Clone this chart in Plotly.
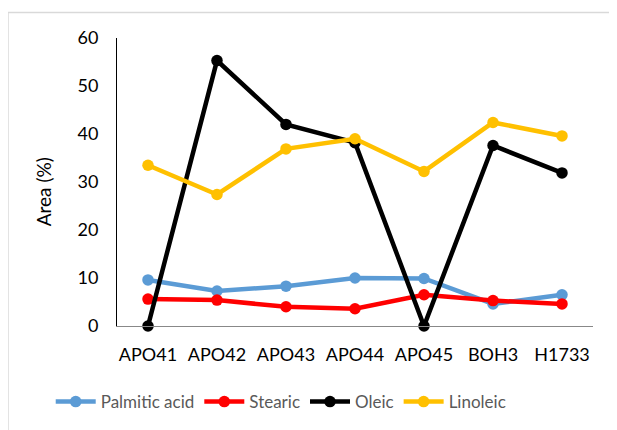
import plotly.graph_objects as go

categories = ["APO41", "APO42", "APO43", "APO44", "APO45", "BOH3", "H1733"]
palmitic = [9.6, 7.3, 8.3, 10.0, 9.9, 4.6, 6.5]
stearic = [5.6, 5.4, 4.0, 3.6, 6.5, 5.3, 4.6]
oleic = [0.0, 55.3, 42.0, 38.2, 0.0, 37.6, 31.9]
linoleic = [33.5, 27.4, 36.9, 39.0, 32.2, 42.4, 39.6]

series = [
    ("Palmitic acid", palmitic, "#5B9BD5"),
    ("Stearic", stearic, "#FF0000"),
    ("Oleic", oleic, "#000000"),
    ("Linoleic", linoleic, "#FFC000"),
]

fig = go.Figure()
for name, vals, color in series:
    fig.add_trace(go.Scatter(
        x=categories, y=vals, name=name, mode="lines+markers",
        line=dict(color=color, width=4.5),
        marker=dict(color=color, size=11.5),
        cliponaxis=False,
    ))

font_family = "Lato, Open Sans, sans-serif"
fig.update_layout(
    width=617, height=430,
    margin=dict(l=109, r=32, t=30, b=112, autoexpand=False),
    plot_bgcolor="white", paper_bgcolor="white",
    font=dict(family=font_family, size=18, color="#000000"),
    showlegend=True,
    legend=dict(orientation="h", x=0.345, xanchor="center", y=-0.264, yanchor="middle",
                font=dict(size=17, color="#595959"), itemwidth=40,
                tracegroupgap=0, bgcolor="rgba(0,0,0,0)"),
    xaxis=dict(showline=True, linecolor="#888888", linewidth=1, showgrid=False,
               ticks="", automargin=False, ticklabelstandoff=12,
               tickfont=dict(size=18, color="#000000")),
    yaxis=dict(range=[0, 60], dtick=10, showline=True, linecolor="#000000", linewidth=1,
               showgrid=False, zeroline=False, ticks="", automargin=False,
               ticklabelstandoff=14,
               tickfont=dict(size=18, color="#000000")),
)
fig.add_annotation(text="Area (%)", xref="paper", yref="paper", x=-0.155, y=0.465,
                   xanchor="center", yanchor="middle", textangle=-90, showarrow=False,
                   font=dict(size=19, color="#000000", family=font_family))
# chart-area border (top and left visible)
fig.add_shape(type="line", xref="paper", yref="paper", x0=-0.229, x1=-0.229, y0=-1, y1=1.0885,
              line=dict(color="#D9D9D9", width=1.5))
fig.add_shape(type="line", xref="paper", yref="paper", x0=-0.229, x1=1.3, y0=1.0885, y1=1.0885,
              line=dict(color="#D9D9D9", width=1.5))

fig.write_html("out.html")
